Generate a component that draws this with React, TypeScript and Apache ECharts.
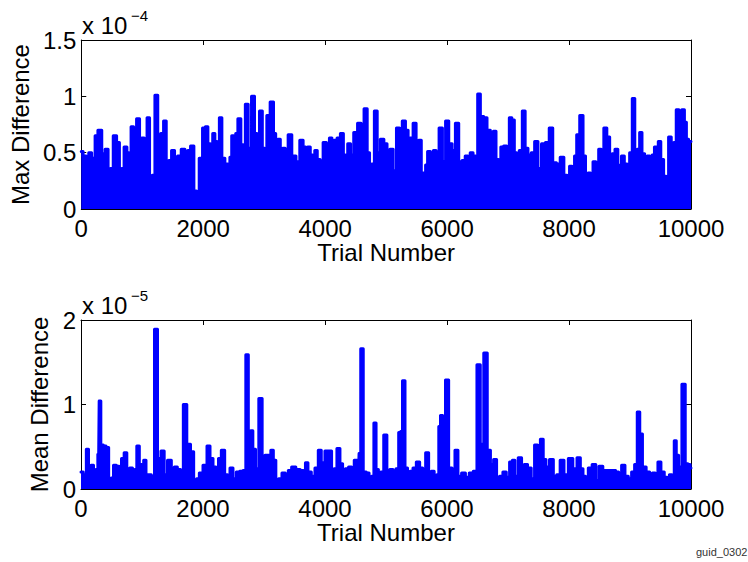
import React, { useEffect, useRef } from "react";
import * as echarts from "echarts";

// Trial numbers and upper-envelope values (Max Difference, units of 1e-4)
const maxTrials = [0, 60, 104, 142, 197, 219, 235, 311, 361, 421, 459, 497, 552, 607, 645, 678, 727, 770, 798, 836, 880, 934, 978, 1005, 1060, 1098, 1142, 1186, 1230, 1279, 1328, 1372, 1415, 1454, 1508, 1552, 1607, 1672, 1727, 1765, 1820, 1874, 1907, 1962, 2016, 2055, 2098, 2137, 2175, 2208, 2246, 2284, 2328, 2383, 2421, 2454, 2481, 2519, 2547, 2590, 2645, 2672, 2710, 2765, 2820, 2863, 2902, 2945, 2994, 3022, 3065, 3131, 3175, 3202, 3245, 3284, 3322, 3366, 3420, 3486, 3557, 3611, 3666, 3693, 3731, 3781, 3813, 3846, 3895, 3939, 3994, 4048, 4092, 4130, 4168, 4223, 4277, 4321, 4348, 4392, 4441, 4496, 4567, 4611, 4665, 4714, 4742, 4785, 4829, 4878, 4933, 4993, 5036, 5088, 5142, 5197, 5240, 5290, 5344, 5377, 5415, 5470, 5513, 5552, 5601, 5634, 5661, 5699, 5754, 5797, 5841, 5896, 5950, 6000, 6054, 6109, 6163, 6218, 6272, 6322, 6360, 6398, 6453, 6485, 6518, 6573, 6627, 6682, 6737, 6780, 6824, 6862, 6900, 6955, 6999, 7042, 7081, 7124, 7162, 7206, 7261, 7299, 7353, 7408, 7463, 7517, 7580, 7645, 7705, 7760, 7825, 7885, 7945, 7989, 8027, 8071, 8109, 8142, 8208, 8251, 8289, 8333, 8371, 8415, 8464, 8508, 8546, 8595, 8644, 8688, 8726, 8781, 8819, 8840, 8879, 8934, 8972, 9015, 9059, 9097, 9141, 9174, 9218, 9261, 9300, 9343, 9381, 9420, 9447, 9480, 9529, 9573, 9611, 9654, 9698, 9736, 9780, 9824, 9873, 9911, 9938, 9982, 10000];
const maxValues = [0.51, 0.47, 0.34, 0.50, 0.45, 0.22, 0.65, 0.70, 0.49, 0.53, 0.22, 0.36, 0.65, 0.59, 0.28, 0.36, 0.55, 0.50, 0.41, 0.73, 0.42, 0.80, 0.61, 0.63, 0.45, 0.81, 0.13, 0.30, 1.01, 0.49, 0.67, 0.78, 0.14, 0.43, 0.52, 0.43, 0.47, 0.53, 0.43, 0.52, 0.56, 0.16, 0.15, 0.45, 0.72, 0.73, 0.58, 0.45, 0.67, 0.60, 0.44, 0.81, 0.45, 0.40, 0.20, 0.46, 0.65, 0.31, 0.67, 0.80, 0.57, 0.30, 0.93, 0.54, 1.00, 0.67, 0.66, 0.87, 0.54, 0.40, 0.83, 0.95, 0.67, 0.20, 0.62, 0.13, 0.54, 0.28, 0.66, 0.47, 0.42, 0.61, 0.55, 0.50, 0.55, 0.48, 0.30, 0.52, 0.44, 0.28, 0.59, 0.55, 0.63, 0.21, 0.61, 0.63, 0.67, 0.22, 0.48, 0.58, 0.48, 0.68, 0.76, 0.58, 0.89, 0.50, 0.14, 0.40, 0.87, 0.50, 0.62, 0.58, 0.41, 0.53, 0.34, 0.72, 0.56, 0.78, 0.70, 0.46, 0.63, 0.76, 0.53, 0.61, 0.32, 0.21, 0.39, 0.51, 0.38, 0.52, 0.20, 0.72, 0.42, 0.78, 0.58, 0.52, 0.76, 0.42, 0.43, 0.47, 0.37, 0.50, 0.47, 0.45, 1.02, 0.82, 0.81, 0.70, 0.41, 0.69, 0.44, 0.39, 0.55, 0.56, 0.39, 0.81, 0.79, 0.50, 0.25, 0.52, 0.87, 0.54, 0.48, 0.50, 0.60, 0.36, 0.58, 0.59, 0.72, 0.41, 0.40, 0.46, 0.30, 0.15, 0.38, 0.22, 0.47, 0.66, 0.83, 0.47, 0.13, 0.32, 0.14, 0.42, 0.23, 0.53, 0.49, 0.72, 0.64, 0.48, 0.49, 0.53, 0.39, 0.21, 0.47, 0.40, 0.22, 0.50, 0.98, 0.48, 0.53, 0.68, 0.49, 0.22, 0.47, 0.22, 0.48, 0.55, 0.30, 0.60, 0.44, 0.29, 0.25, 0.64, 0.27, 0.59, 0.88, 0.55, 0.88, 0.77, 0.62, 0.60, 0.60];

// Trial numbers and upper-envelope values (Mean Difference, units of 1e-5)
const meanTrials = [0, 71, 104, 142, 186, 224, 262, 290, 306, 344, 388, 432, 475, 514, 552, 607, 645, 683, 732, 770, 825, 863, 896, 934, 978, 1011, 1044, 1087, 1126, 1180, 1230, 1279, 1344, 1383, 1454, 1508, 1552, 1607, 1656, 1699, 1770, 1820, 1874, 1918, 1962, 2038, 2093, 2137, 2191, 2235, 2273, 2328, 2383, 2421, 2464, 2519, 2574, 2629, 2683, 2721, 2765, 2798, 2836, 2885, 2945, 2994, 3038, 3093, 3131, 3175, 3213, 3267, 3322, 3377, 3420, 3486, 3557, 3628, 3666, 3693, 3748, 3803, 3868, 3912, 3966, 4032, 4086, 4130, 4168, 4223, 4267, 4310, 4359, 4414, 4458, 4501, 4550, 4567, 4605, 4649, 4703, 4742, 4785, 4818, 4856, 4894, 4933, 4993, 5036, 5088, 5142, 5186, 5230, 5251, 5290, 5333, 5372, 5415, 5470, 5524, 5579, 5623, 5677, 5721, 5765, 5814, 5852, 5879, 5907, 5950, 6000, 6054, 6109, 6152, 6207, 6272, 6332, 6398, 6464, 6518, 6573, 6633, 6687, 6737, 6791, 6835, 6889, 6944, 6999, 7053, 7091, 7135, 7201, 7244, 7288, 7353, 7408, 7463, 7506, 7556, 7599, 7645, 7716, 7771, 7825, 7885, 7951, 8027, 8098, 8164, 8208, 8251, 8289, 8344, 8415, 8464, 8519, 8590, 8672, 8737, 8792, 8835, 8890, 8945, 8999, 9054, 9097, 9141, 9179, 9229, 9300, 9343, 9392, 9436, 9480, 9534, 9589, 9627, 9665, 9709, 9742, 9775, 9818, 9884, 9927, 9971, 10000];
const meanValues = [0.20, 0.17, 0.47, 0.17, 0.28, 0.17, 0.23, 0.41, 1.04, 0.52, 0.51, 0.49, 0.12, 0.13, 0.28, 0.27, 0.20, 0.36, 0.43, 0.23, 0.25, 0.20, 0.23, 0.51, 0.29, 0.22, 0.34, 0.17, 0.17, 0.15, 1.89, 0.36, 0.45, 0.17, 0.34, 0.15, 0.26, 0.23, 0.14, 1.00, 0.53, 0.44, 0.11, 0.12, 0.19, 0.28, 0.51, 0.36, 0.26, 0.17, 0.36, 0.46, 0.17, 0.10, 0.25, 0.12, 0.20, 0.21, 0.22, 1.59, 0.20, 0.69, 0.47, 0.24, 1.07, 0.20, 0.40, 0.40, 0.46, 0.34, 0.09, 0.12, 0.19, 0.13, 0.22, 0.26, 0.23, 0.22, 0.14, 0.31, 0.20, 0.15, 0.25, 0.46, 0.31, 0.45, 0.45, 0.13, 0.24, 0.48, 0.30, 0.11, 0.24, 0.26, 0.14, 0.34, 0.23, 0.42, 1.66, 0.20, 0.19, 0.12, 0.15, 0.78, 0.23, 0.15, 0.20, 0.64, 0.17, 0.23, 0.11, 0.24, 0.67, 0.68, 1.28, 0.25, 0.19, 0.21, 0.25, 0.32, 0.25, 0.20, 0.43, 0.14, 0.21, 0.14, 0.17, 0.74, 0.87, 0.25, 1.29, 0.25, 0.13, 0.46, 0.15, 0.19, 0.14, 0.19, 0.21, 1.47, 0.53, 1.61, 0.46, 0.29, 0.35, 0.13, 0.15, 0.20, 0.14, 0.32, 0.34, 0.15, 0.37, 0.20, 0.29, 0.25, 0.12, 0.52, 0.15, 0.59, 0.35, 0.26, 0.35, 0.15, 0.17, 0.34, 0.17, 0.36, 0.24, 0.37, 0.24, 0.15, 0.10, 0.25, 0.29, 0.10, 0.27, 0.22, 0.22, 0.22, 0.20, 0.11, 0.28, 0.15, 0.12, 0.20, 0.29, 0.91, 0.65, 0.26, 0.20, 0.12, 0.19, 0.12, 0.32, 0.20, 0.14, 0.11, 0.17, 0.09, 0.57, 0.40, 0.26, 1.24, 0.30, 0.29, 0.25];

const xMin = 0;
const xMax = 10000;
const xStep = 2000;
const maxYTicks = { min: 0, max: 1.5, interval: 0.5 };
const meanYTicks = { min: 0, max: 2, interval: 1 };

const FONT = "'Liberation Sans', Arial, Helvetica, sans-serif";
const BLUE = "#0000ff";

export default function App() {
  const ref = useRef<HTMLDivElement>(null);
  useEffect(() => {
    document.body.style.margin = "0";
    const chart = echarts.init(ref.current!, null, { renderer: "svg" });
    const axisLine = { show: true, onZero: false, lineStyle: { color: "#000", width: 1 } };
    const tick = { show: true, inside: true, length: 5, lineStyle: { color: "#000", width: 1 } };
    const lbl = { color: "#000", fontSize: 24, fontFamily: FONT };
    const xFmt = (v: number) => String(v);

    const xAxisBottom = (grid: number) => ({
      type: "value", gridIndex: grid, position: "bottom", min: xMin, max: xMax, interval: xStep,
      axisLine, axisTick: tick, splitLine: { show: false },
      axisLabel: { ...lbl, margin: 7, formatter: xFmt, showMaxLabel: true, showMinLabel: true, hideOverlap: false },
      name: "Trial Number", nameLocation: "middle", nameGap: 30,
      nameTextStyle: { ...lbl },
    });
    const xAxisTop = (grid: number) => ({
      type: "value", gridIndex: grid, position: "top", min: xMin, max: xMax, interval: xStep,
      axisLine, axisTick: tick, splitLine: { show: false }, axisLabel: { show: false },
    });
    const yLeft = (grid: number, t: any, name: string, gap: number) => ({
      type: "value", gridIndex: grid, position: "left", ...t,
      axisLine, axisTick: tick, splitLine: { show: false },
      axisLabel: { ...lbl, margin: 5, showMaxLabel: true },
      name, nameLocation: "middle", nameGap: gap, nameTextStyle: { ...lbl },
    });
    const yRight = (grid: number, t: any) => ({
      type: "value", gridIndex: grid, position: "right", ...t,
      axisLine, axisTick: tick, splitLine: { show: false }, axisLabel: { show: false },
    });
    const series = (trials: number[], values: number[]) => ({
      type: "line", step: "middle", symbol: "none",
      data: trials.map((t, i) => [t, values[i]]),
      lineStyle: { color: BLUE, width: 3, cap: "round", join: "round" },
      itemStyle: { color: BLUE },
      areaStyle: { color: BLUE, opacity: 1 },
      silent: true,
    });

    chart.setOption({
      animation: false,
      backgroundColor: "#fff",
      grid: [
        { left: 81, top: 40, width: 610, height: 169 },
        { left: 81, top: 320, width: 610, height: 169 },
      ],
      xAxis: [xAxisBottom(0), xAxisTop(0), xAxisBottom(1), xAxisTop(1)],
      yAxis: [
        yLeft(0, maxYTicks, "Max Difference", 44),
        yRight(0, maxYTicks),
        yLeft(1, meanYTicks, "Mean Difference", 24),
        yRight(1, meanYTicks),
      ],
      series: [
        { ...series(maxTrials, maxValues), xAxisIndex: 0, yAxisIndex: 0 },
        { ...series(meanTrials, meanValues), xAxisIndex: 2, yAxisIndex: 2 },
      ],
      graphic: [
        { type: "text", x: 82, y: 13, style: { text: "x 10", font: `24px ${FONT}`, fill: "#000", textVerticalAlign: "top" } },
        { type: "text", x: 131, y: 8, style: { text: "\u22124", font: `15px ${FONT}`, fill: "#000", textVerticalAlign: "top" } },
        { type: "text", x: 82, y: 293, style: { text: "x 10", font: `24px ${FONT}`, fill: "#000", textVerticalAlign: "top" } },
        { type: "text", x: 131, y: 288, style: { text: "\u22125", font: `15px ${FONT}`, fill: "#000", textVerticalAlign: "top" } },
        { type: "text", x: 696, y: 546, style: { text: "guid_0302", font: `11px ${FONT}`, fill: "#333", textVerticalAlign: "top" } },
      ],
    });
    return () => chart.dispose();
  }, []);
  return <div ref={ref} style={{ width: 748, height: 562 }} />;
}
